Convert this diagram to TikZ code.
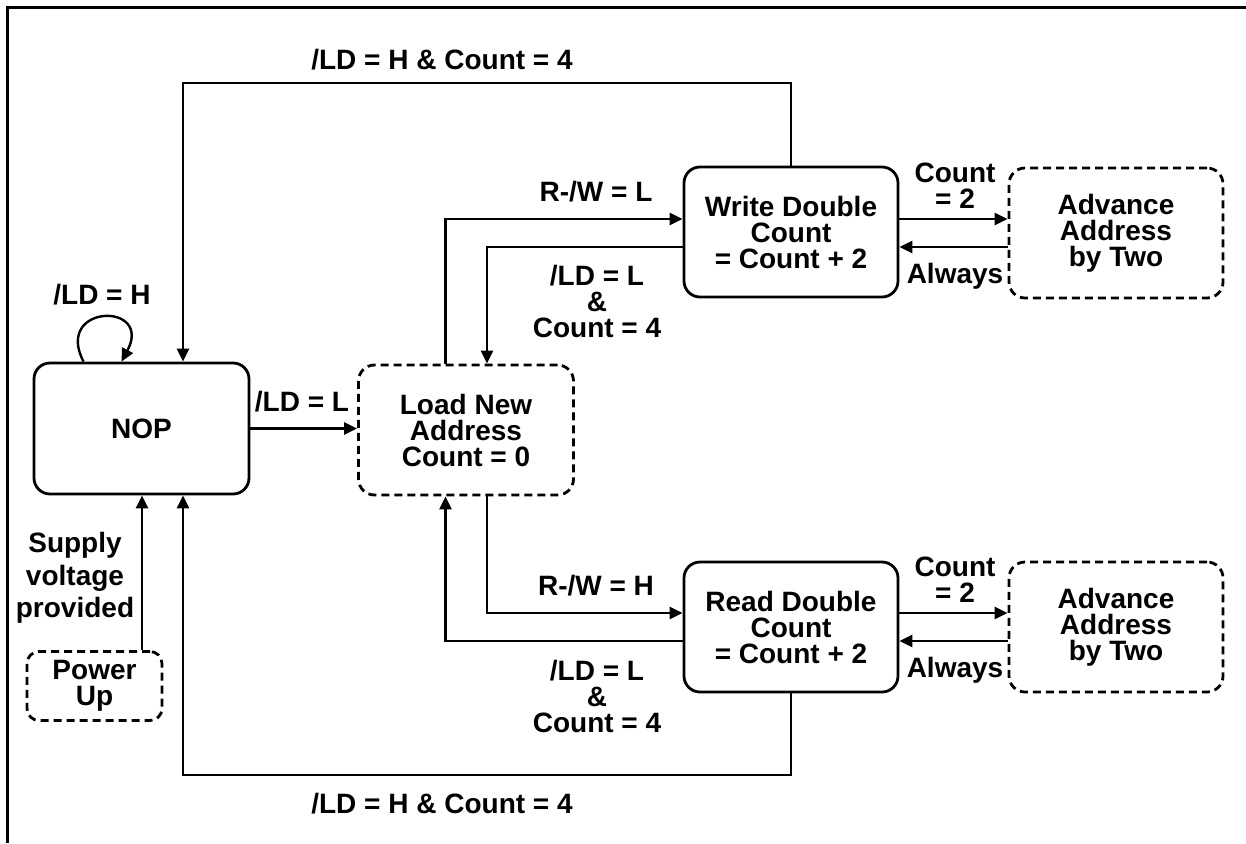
\documentclass[tikz,border=0pt]{standalone}
\usepackage{fontspec}
\setmainfont{Liberation Sans}
\usetikzlibrary{arrows.meta,calc}
\newcommand\lblfont{\fontsize{28}{26}\selectfont\bfseries}
\newcommand\supfont{\fontsize{28}{32.5}\selectfont\bfseries}
\tikzset{
  state/.style={draw, line width=2.8pt, rounded corners=16pt, minimum width=214pt, minimum height=130pt, align=center, inner sep=0pt, font=\lblfont},
  dstate/.style={state, dash pattern=on 8pt off 5pt},
  arr/.style={line width=2.4pt, -{Triangle[length=13pt,width=12pt]}},
  lbl/.style={align=center, font=\lblfont, inner sep=0pt},
}
\begin{document}
\begin{tikzpicture}[x=1pt,y=-1pt]
\useasboundingbox (0,0) rectangle (1246,843);
\draw[line width=3pt] (7,843) -- (7,8) -- (1246,8);

\node[state, minimum width=215pt, minimum height=131pt] (nop) at (141.5,428.5) {NOP};
\node[dstate, minimum width=215pt] (load) at (466,430) {Load New\\Address\\Count = 0};
\node[state] (write) at (791,232) {Write Double\\Count\\= Count + 2};
\node[dstate] (adv1) at (1116,233) {Advance\\Address\\by Two};
\node[state] (read) at (791,627) {Read Double\\Count\\= Count + 2};
\node[dstate] (adv2) at (1116,627) {Advance\\Address\\by Two};
\node[dstate, minimum width=135pt, minimum height=69pt, rounded corners=12pt] (pwr) at (94.5,686) {Power\\Up};

\coordinate (fbT) at (183,83);
\coordinate (fbB) at (183,775);
\coordinate (a1) at (445.5,219);
\coordinate (a2) at (487,247);
\coordinate (a3) at (487,613);
\coordinate (a4) at (445.5,641);
\coordinate (c1) at (950,219);
\coordinate (c2) at (950,247);
\coordinate (c3) at (950,613);
\coordinate (c4) at (950,641);
\path (pwr.north) ++(47.5,0) coordinate (pu);

\draw[arr] (write.north) |- (fbT) -- (fbT |- nop.north);
\draw[arr] (read.south) |- (fbB) -- (fbB |- nop.south);
\draw[arr] (pu) -- (pu |- nop.south);
\draw[arr] (nop.east) -- (nop.east -| load.west);
\draw[arr] (a1 |- load.north) -- (a1) -- (a1 -| write.west);
\draw[arr] (a2 -| write.west) -- (a2) -- (a2 |- load.north);
\draw[arr] (a3 |- load.south) -- (a3) -- (a3 -| read.west);
\draw[arr] (a4 -| read.west) -- (a4) -- (a4 |- load.south);
\draw[arr] (c1 -| write.east) -- (c1 -| adv1.west);
\draw[arr] (c2 -| adv1.west) -- (c2 -| write.east);
\draw[arr] (c3 -| read.east) -- (c3 -| adv2.west);
\draw[arr] (c4 -| adv2.west) -- (c4 -| read.east);
\draw[arr] ([xshift=-58pt]nop.north) .. controls +(-30,-58) and +(32,-60) .. ([xshift=-20pt]nop.north);

\node[lbl] (l1) at (442,60) {/LD = H \& Count = 4};
\node[lbl] (l2) at (442,804) {/LD = H \& Count = 4};
\node[lbl] (l3) at (102,295) {/LD = H};
\node[lbl] (l4) at (302,402) {/LD = L};
\node[lbl] (l5) at (596,192) {R-/W = L};
\node[lbl] (l6) at (597,301) {/LD = L\\\&\\Count = 4};
\node[lbl] (l7) at (596,586) {R-/W = H};
\node[lbl] (l8) at (597,696) {/LD = L\\\&\\Count = 4};
\node[lbl] (l9) at (955,186) {Count\\= 2};
\node[lbl] (l10) at (955,276) {Always};
\node[lbl] (l11) at (955,580) {Count\\= 2};
\node[lbl] (l12) at (955,670) {Always};
\node[lbl, font=\supfont] (l13) at (75,578) {Supply\\voltage\\provided};
\end{tikzpicture}
\end{document}
